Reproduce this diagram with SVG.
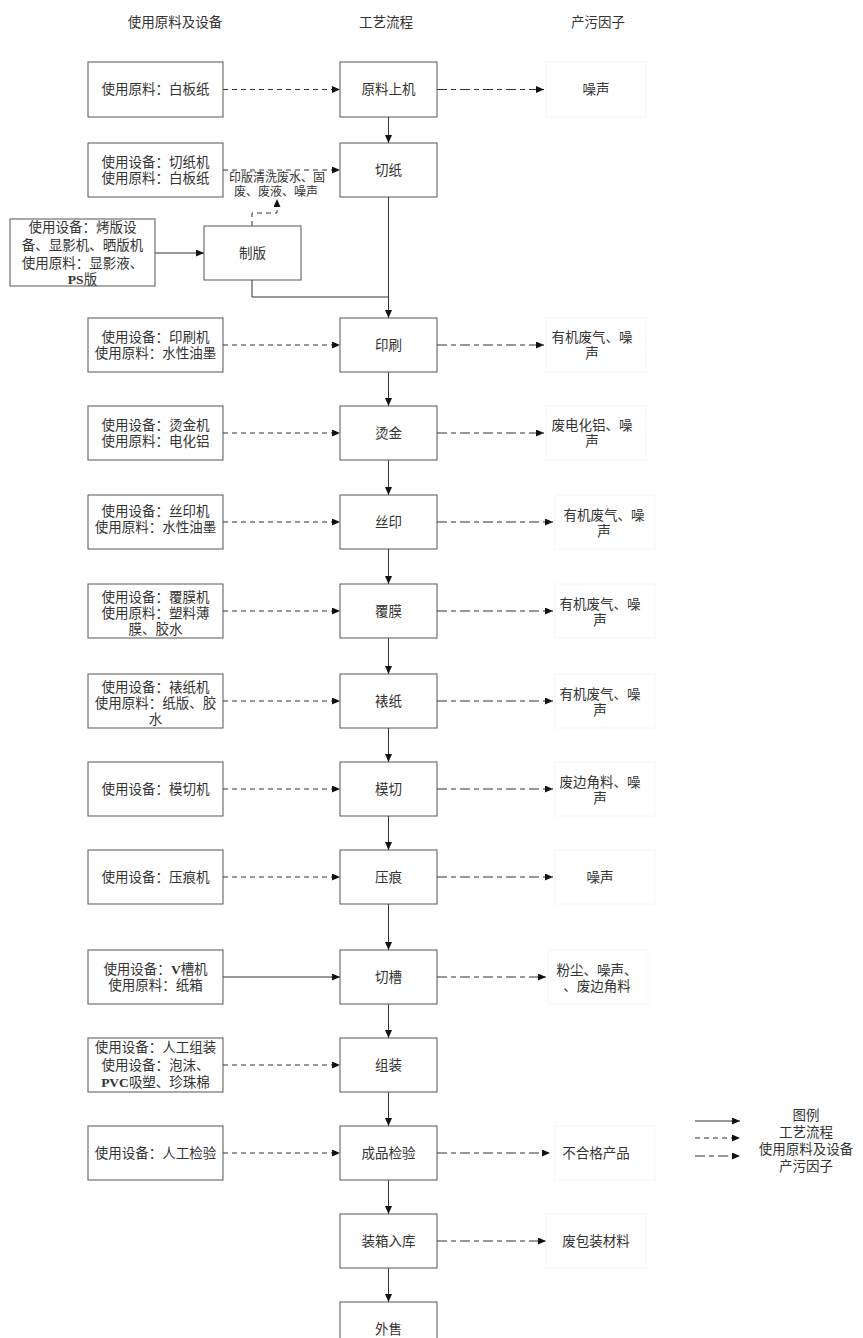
<svg xmlns="http://www.w3.org/2000/svg" width="863" height="1338" viewBox="0 0 863 1338">
<style>
.b{fill:#fff;stroke:#555;stroke-width:1}
.f{fill:none;stroke:#f6f6f6;stroke-width:1}
text{font-family:"Liberation Serif","Noto Sans CJK SC",serif;font-size:13.5px;fill:#333;text-anchor:middle;dominant-baseline:central}
.sm{font-size:12px}
.lat{font-weight:bold}
.s{fill:none;stroke:#333;stroke-width:1}
.i{fill:none;stroke:#333;stroke-width:1;stroke-dasharray:5 4}
.o{fill:none;stroke:#333;stroke-width:1;stroke-dasharray:10 4 5 4}
</style>
<defs>
<marker id="ah" markerWidth="9" markerHeight="7" refX="8" refY="3.5" orient="auto" markerUnits="userSpaceOnUse"><path d="M0,0 L8,3.5 L0,7 z" fill="#111"/></marker>
</defs>
<g id="headers">
<text x="175" y="22">使用原料及设备</text>
<text x="386" y="22">工艺流程</text>
<text x="598" y="22">产污因子</text>
</g>
<g id="connectors">
<path class="s" d="M388.5,117 V143" marker-end="url(#ah)"/>
<path class="s" d="M388.5,197 V318" marker-end="url(#ah)"/>
<path class="s" d="M252,280 V297 H388.5"/>
<path class="s" d="M155,253 H204" marker-end="url(#ah)"/>
<path class="i" d="M252,226 V213 H277 V199" marker-end="url(#ah)"/>
<path class="s" d="M388.5,372 V406" marker-end="url(#ah)"/>
<path class="s" d="M388.5,460 V495" marker-end="url(#ah)"/>
<path class="s" d="M388.5,549 V584" marker-end="url(#ah)"/>
<path class="s" d="M388.5,638 V674" marker-end="url(#ah)"/>
<path class="s" d="M388.5,728 V762" marker-end="url(#ah)"/>
<path class="s" d="M388.5,816 V850" marker-end="url(#ah)"/>
<path class="s" d="M388.5,904 V950" marker-end="url(#ah)"/>
<path class="s" d="M388.5,1004 V1038" marker-end="url(#ah)"/>
<path class="s" d="M388.5,1092 V1126" marker-end="url(#ah)"/>
<path class="s" d="M388.5,1180 V1214" marker-end="url(#ah)"/>
<path class="s" d="M388.5,1268 V1302" marker-end="url(#ah)"/>
<path class="i" d="M223,89.5 H340" marker-end="url(#ah)"/>
<path class="i" d="M223,170 H340" marker-end="url(#ah)"/>
<path class="i" d="M223,345 H340" marker-end="url(#ah)"/>
<path class="i" d="M223,433 H340" marker-end="url(#ah)"/>
<path class="i" d="M223,522 H340" marker-end="url(#ah)"/>
<path class="i" d="M223,611 H340" marker-end="url(#ah)"/>
<path class="i" d="M223,701 H340" marker-end="url(#ah)"/>
<path class="i" d="M223,789 H340" marker-end="url(#ah)"/>
<path class="i" d="M223,877 H340" marker-end="url(#ah)"/>
<path class="s" d="M223,977 H340" marker-end="url(#ah)"/>
<path class="i" d="M223,1065 H340" marker-end="url(#ah)"/>
<path class="i" d="M223,1153 H340" marker-end="url(#ah)"/>
<path class="o" d="M437,89.5 H544" marker-end="url(#ah)"/>
<path class="o" d="M437,345 H544" marker-end="url(#ah)"/>
<path class="o" d="M437,433 H544" marker-end="url(#ah)"/>
<path class="o" d="M437,522 H553" marker-end="url(#ah)"/>
<path class="o" d="M437,611 H553" marker-end="url(#ah)"/>
<path class="o" d="M437,701 H553" marker-end="url(#ah)"/>
<path class="o" d="M437,789 H553" marker-end="url(#ah)"/>
<path class="o" d="M437,877 H553" marker-end="url(#ah)"/>
<path class="o" d="M437,977 H546" marker-end="url(#ah)"/>
<path class="o" d="M437,1153 H550" marker-end="url(#ah)"/>
<path class="o" d="M437,1241 H546" marker-end="url(#ah)"/>
</g>
<g id="n-yuanliaoshangji"><rect class="b" x="340" y="62" width="97" height="55"/><text x="388.5" y="89.5">原料上机</text></g>
<g id="n-qiezhi"><rect class="b" x="340" y="143" width="97" height="54"/><text x="388.5" y="170">切纸</text></g>
<g id="n-zhiban"><rect class="b" x="204" y="226" width="97" height="54"/><text x="252.5" y="253">制版</text></g>
<g id="n-yinshua"><rect class="b" x="340" y="318" width="97" height="54"/><text x="388.5" y="345">印刷</text></g>
<g id="n-tangjin"><rect class="b" x="340" y="406" width="97" height="54"/><text x="388.5" y="433">烫金</text></g>
<g id="n-siyin"><rect class="b" x="340" y="495" width="97" height="54"/><text x="388.5" y="522">丝印</text></g>
<g id="n-fumo"><rect class="b" x="340" y="584" width="97" height="54"/><text x="388.5" y="611">覆膜</text></g>
<g id="n-biaozhi"><rect class="b" x="340" y="674" width="97" height="54"/><text x="388.5" y="701">裱纸</text></g>
<g id="n-moqie"><rect class="b" x="340" y="762" width="97" height="54"/><text x="388.5" y="789">模切</text></g>
<g id="n-yahen"><rect class="b" x="340" y="850" width="97" height="54"/><text x="388.5" y="877">压痕</text></g>
<g id="n-qiecao"><rect class="b" x="340" y="950" width="97" height="54"/><text x="388.5" y="977">切槽</text></g>
<g id="n-zuzhuang"><rect class="b" x="340" y="1038" width="97" height="54"/><text x="388.5" y="1065">组装</text></g>
<g id="n-jianyan"><rect class="b" x="340" y="1126" width="97" height="54"/><text x="388.5" y="1153">成品检验</text></g>
<g id="n-zhuangxiang"><rect class="b" x="340" y="1214" width="97" height="54"/><text x="388.5" y="1241">装箱入库</text></g>
<g id="n-waishou"><rect class="b" x="340" y="1302" width="97" height="54"/><text x="388.5" y="1329">外售</text></g>

<g id="in-1"><rect class="b" x="88" y="62" width="135" height="55"/><text x="155.5" y="89.5">使用原料：白板纸</text></g>
<g id="in-2"><rect class="b" x="88" y="143" width="135" height="54"/><text x="155.5" y="162">使用设备：切纸机</text><text x="155.5" y="178">使用原料：白板纸</text></g>
<g id="in-zhiban"><rect class="b" x="10" y="219" width="145" height="67"/><text x="82.5" y="227">使用设备：烤版设</text><text x="82.5" y="245">备、显影机、晒版机</text><text x="82.5" y="263">使用原料：显影液、</text><text x="82.5" y="279"><tspan class="lat">PS</tspan>版</text></g>
<g id="in-3"><rect class="b" x="88" y="318" width="135" height="54"/><text x="155.5" y="337">使用设备：印刷机</text><text x="155.5" y="353">使用原料：水性油墨</text></g>
<g id="in-4"><rect class="b" x="88" y="406" width="135" height="54"/><text x="155.5" y="425">使用设备：烫金机</text><text x="155.5" y="441">使用原料：电化铝</text></g>
<g id="in-5"><rect class="b" x="88" y="495" width="135" height="54"/><text x="155.5" y="511">使用设备：丝印机</text><text x="155.5" y="527">使用原料：水性油墨</text></g>
<g id="in-6"><rect class="b" x="88" y="584" width="135" height="54"/><text x="155.5" y="597">使用设备：覆膜机</text><text x="155.5" y="613">使用原料：塑料薄</text><text x="155.5" y="629">膜、胶水</text></g>
<g id="in-7"><rect class="b" x="88" y="674" width="135" height="54"/><text x="155.5" y="687">使用设备：裱纸机</text><text x="155.5" y="703">使用原料：纸版、胶</text><text x="155.5" y="719">水</text></g>
<g id="in-8"><rect class="b" x="88" y="762" width="135" height="54"/><text x="155.5" y="789">使用设备：模切机</text></g>
<g id="in-9"><rect class="b" x="88" y="850" width="135" height="54"/><text x="155.5" y="877">使用设备：压痕机</text></g>
<g id="in-10"><rect class="b" x="88" y="950" width="135" height="54"/><text x="155.5" y="969">使用设备：<tspan class="lat">V</tspan>槽机</text><text x="155.5" y="985">使用原料：纸箱</text></g>
<g id="in-11"><rect class="b" x="88" y="1038" width="135" height="54"/><text x="155.5" y="1047">使用设备：人工组装</text><text x="155.5" y="1065">使用设备：泡沫、</text><text x="155.5" y="1082"><tspan class="lat">PVC</tspan>吸塑、珍珠棉</text></g>
<g id="in-12"><rect class="b" x="88" y="1126" width="135" height="54"/><text x="155.5" y="1153">使用设备：人工检验</text></g>

<g id="lbl-zhiban"><text class="sm" x="277" y="178">印版清洗废水、固</text><text class="sm" x="276" y="192">废、废液、噪声</text></g>

<g id="out-1"><rect class="f" x="546" y="62" width="100" height="55"/><text x="596" y="89.5">噪声</text></g>
<g id="out-2"><rect class="f" x="546" y="318" width="100" height="54"/><text x="592" y="337">有机废气、噪</text><text x="592" y="353">声</text></g>
<g id="out-3"><rect class="f" x="546" y="406" width="100" height="54"/><text x="592" y="425">废电化铝、噪</text><text x="592" y="441">声</text></g>
<g id="out-4"><rect class="f" x="555" y="495" width="100" height="54"/><text x="604" y="515">有机废气、噪</text><text x="604" y="531">声</text></g>
<g id="out-5"><rect class="f" x="555" y="584" width="100" height="54"/><text x="600" y="604">有机废气、噪</text><text x="600" y="620">声</text></g>
<g id="out-6"><rect class="f" x="555" y="674" width="100" height="54"/><text x="600" y="694">有机废气、噪</text><text x="600" y="710">声</text></g>
<g id="out-7"><rect class="f" x="555" y="762" width="100" height="54"/><text x="600" y="782">废边角料、噪</text><text x="600" y="798">声</text></g>
<g id="out-8"><rect class="f" x="555" y="850" width="100" height="54"/><text x="600" y="877">噪声</text></g>
<g id="out-9"><rect class="f" x="548" y="950" width="100" height="54"/><text x="597" y="970">粉尘、噪声、</text><text x="597" y="986">、废边角料</text></g>
<g id="out-10"><rect class="f" x="555" y="1126" width="100" height="54"/><text x="596" y="1153">不合格产品</text></g>
<g id="out-11"><rect class="f" x="546" y="1214" width="100" height="54"/><text x="596" y="1241">废包装材料</text></g>

<g id="legend">
<text x="806" y="1115">图例</text>
<path class="s" d="M695,1121 H740" marker-end="url(#ah)"/>
<text x="806" y="1132">工艺流程</text>
<path class="i" d="M695,1138 H740" marker-end="url(#ah)"/>
<text x="806" y="1149">使用原料及设备</text>
<path class="o" d="M695,1156 H740" marker-end="url(#ah)"/>
<text x="806" y="1166">产污因子</text>
</g>
</svg>
